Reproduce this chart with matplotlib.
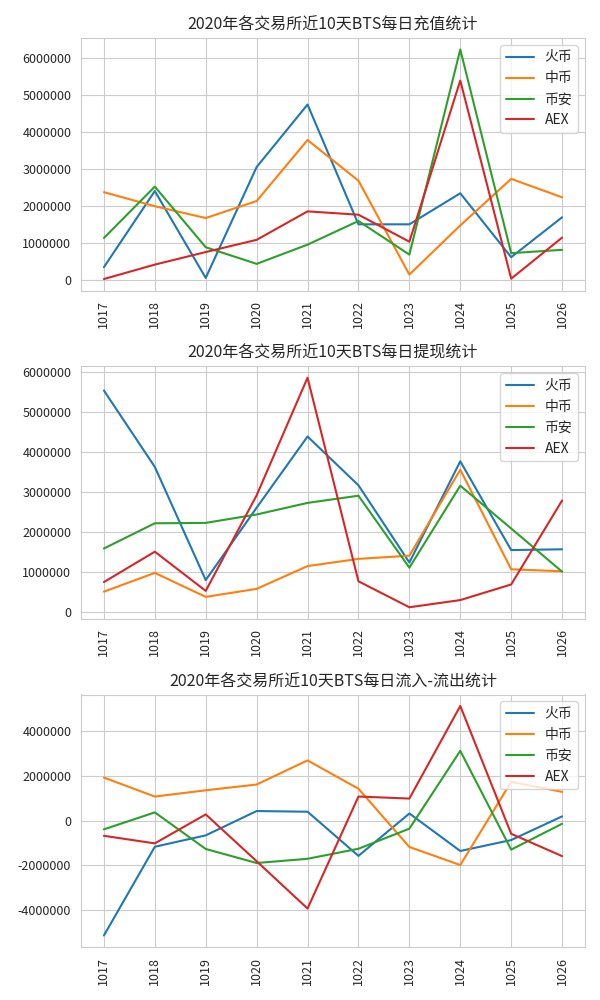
# 各交易所近10天BTS每日充值/提现/净流入统计

import matplotlib
matplotlib.use('Agg')
import matplotlib.pyplot as plt
import seaborn as sns

days = ['1017', '1018', '1019', '1020', '1021', '1022', '1023', '1024', '1025', '1026']
exchanges = ['火币', '中币', '币安', 'AEX']

# 充值
deposit_huobi = [340000, 2400000, 50000, 3050000, 4740000, 1500000, 1500000, 2340000, 610000, 1690000]
deposit_zb = [2370000, 1990000, 1670000, 2130000, 3780000, 2680000, 140000, 1470000, 2730000, 2230000]
deposit_binance = [1130000, 2520000, 880000, 430000, 950000, 1590000, 680000, 6230000, 720000, 810000]
deposit_aex = [20000, 410000, 750000, 1080000, 1850000, 1760000, 1030000, 5390000, 30000, 1140000]

# 提现
withdraw_huobi = [5530000, 3620000, 790000, 2600000, 4380000, 3160000, 1230000, 3760000, 1540000, 1560000]
withdraw_zb = [500000, 970000, 370000, 570000, 1140000, 1320000, 1400000, 3550000, 1060000, 1010000]
withdraw_binance = [1580000, 2210000, 2220000, 2430000, 2720000, 2900000, 1100000, 3150000, 2080000, 1000000]
withdraw_aex = [740000, 1500000, 520000, 2910000, 5850000, 760000, 110000, 290000, 680000, 2780000]

# 流入-流出
net_huobi = [-5150000, -1170000, -660000, 430000, 400000, -1580000, 320000, -1360000, -870000, 190000]
net_zb = [1930000, 1080000, 1360000, 1620000, 2700000, 1430000, -1180000, -1990000, 1740000, 1290000]
net_binance = [-390000, 370000, -1270000, -1900000, -1710000, -1260000, -360000, 3130000, -1300000, -140000]
net_aex = [-680000, -1020000, 280000, -1820000, -3940000, 1080000, 990000, 5140000, -590000, -1590000]

panels = [
    ('2020年各交易所近10天BTS每日充值统计', [deposit_huobi, deposit_zb, deposit_binance, deposit_aex]),
    ('2020年各交易所近10天BTS每日提现统计', [withdraw_huobi, withdraw_zb, withdraw_binance, withdraw_aex]),
    ('2020年各交易所近10天BTS每日流入-流出统计', [net_huobi, net_zb, net_binance, net_aex]),
]

sns.set_style('whitegrid')
plt.rcParams['font.family'] = ['Noto Sans CJK SC', 'DejaVu Sans']
plt.rcParams['axes.unicode_minus'] = False

fig, axes = plt.subplots(3, 1, figsize=(6, 10), dpi=100)
for ax, (title, series) in zip(axes, panels):
    for name, vals in zip(exchanges, series):
        ax.plot(days, vals, label=name)
    ax.set_title(title, fontsize=11.5)
    ax.ticklabel_format(axis='y', style='plain', useOffset=False)
    ax.tick_params(axis='x', labelrotation=90, labelsize=9)
    ax.tick_params(axis='y', labelsize=9)
    ax.legend(loc='upper right', fontsize=10)

fig.subplots_adjust(left=0.135, right=0.975, top=0.962, bottom=0.053, hspace=0.3)
fig.savefig('out.png')
